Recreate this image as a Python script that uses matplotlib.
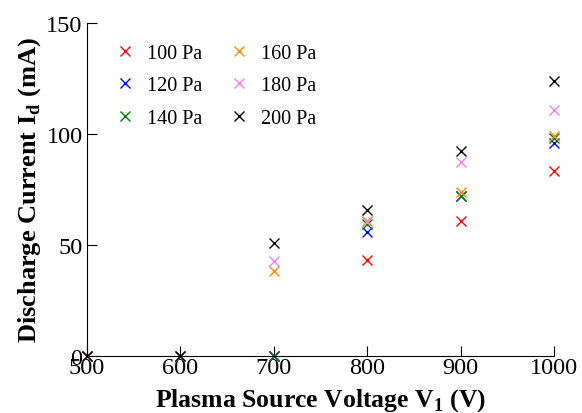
import numpy as np
from matplotlib import pyplot as plt

plt.rcParams['font.family'] = ['Liberation Serif', 'DejaVu Serif']
plt.rcParams['mathtext.fontset'] = 'custom'
plt.rcParams['mathtext.rm'] = 'Liberation Serif'
plt.rcParams['mathtext.bf'] = 'Liberation Serif:bold'

voltage = [500, 600, 700, 800, 900, 1000]
pressures = ["100 Pa", "120 Pa", "140 Pa", "160 Pa", "180 Pa", "200 Pa"]
colors = ["red", "blue", "green", "darkorange", "violet", "black"]

current_100 = [0, 0, 0, 43, 60.7, 83.5]
current_120 = [0, 0, 0, 56, 72.2, 95.8]
current_140 = [0, 0, 0, 59.5, 72, 98]
current_160 = [0, 0, 38.3, 61, 73.7, 99]
current_180 = [0, 0, 42.8, 60.5, 87.2, 110.8]
current_200 = [0, 0, 50.9, 65.8, 92.2, 124]
currents = [current_100, current_120, current_140, current_160, current_180, current_200]

fig = plt.figure(figsize=(5.82, 4.14), dpi=100)
ax = fig.add_axes([0.149, 0.138, 0.803, 0.804])

for p, c, col in zip(pressures, currents, colors):
    ax.plot(voltage, c, linestyle="none", marker="x", color=col,
            markersize=7, markeredgewidth=1.0, label=p, clip_on=False)

ax.set_xlim(500, 1000)
ax.set_ylim(0, 150)
ax.set_xticks([500, 600, 700, 800, 900, 1000])
ax.set_yticks([0, 50, 100, 150])
ax.spines['top'].set_visible(False)
ax.spines['right'].set_visible(False)
ax.tick_params(direction="in", length=7, labelsize=17.5)
ax.tick_params(axis="x", pad=1)
ax.tick_params(axis="y", pad=3)

ax.set_xlabel(r"Plasma Source Voltage V$_\mathbf{1}$ (V)", fontsize=18.5, fontweight="bold")
ax.xaxis.set_label_coords(0.5, -0.15)
ax.xaxis.label.set_verticalalignment("baseline")
ax.set_ylabel(r"Discharge Current I$_\mathbf{d}$ (mA)", fontsize=19, fontweight="bold", labelpad=2)

ax.legend(loc="upper left", bbox_to_anchor=(0.012, 1.005), ncol=2, frameon=False, fontsize=14.5,
          handlelength=1.0, handletextpad=0.6, columnspacing=1.35,
          borderaxespad=0.7, labelspacing=0.68)

fig.savefig("out.png", dpi=100)
